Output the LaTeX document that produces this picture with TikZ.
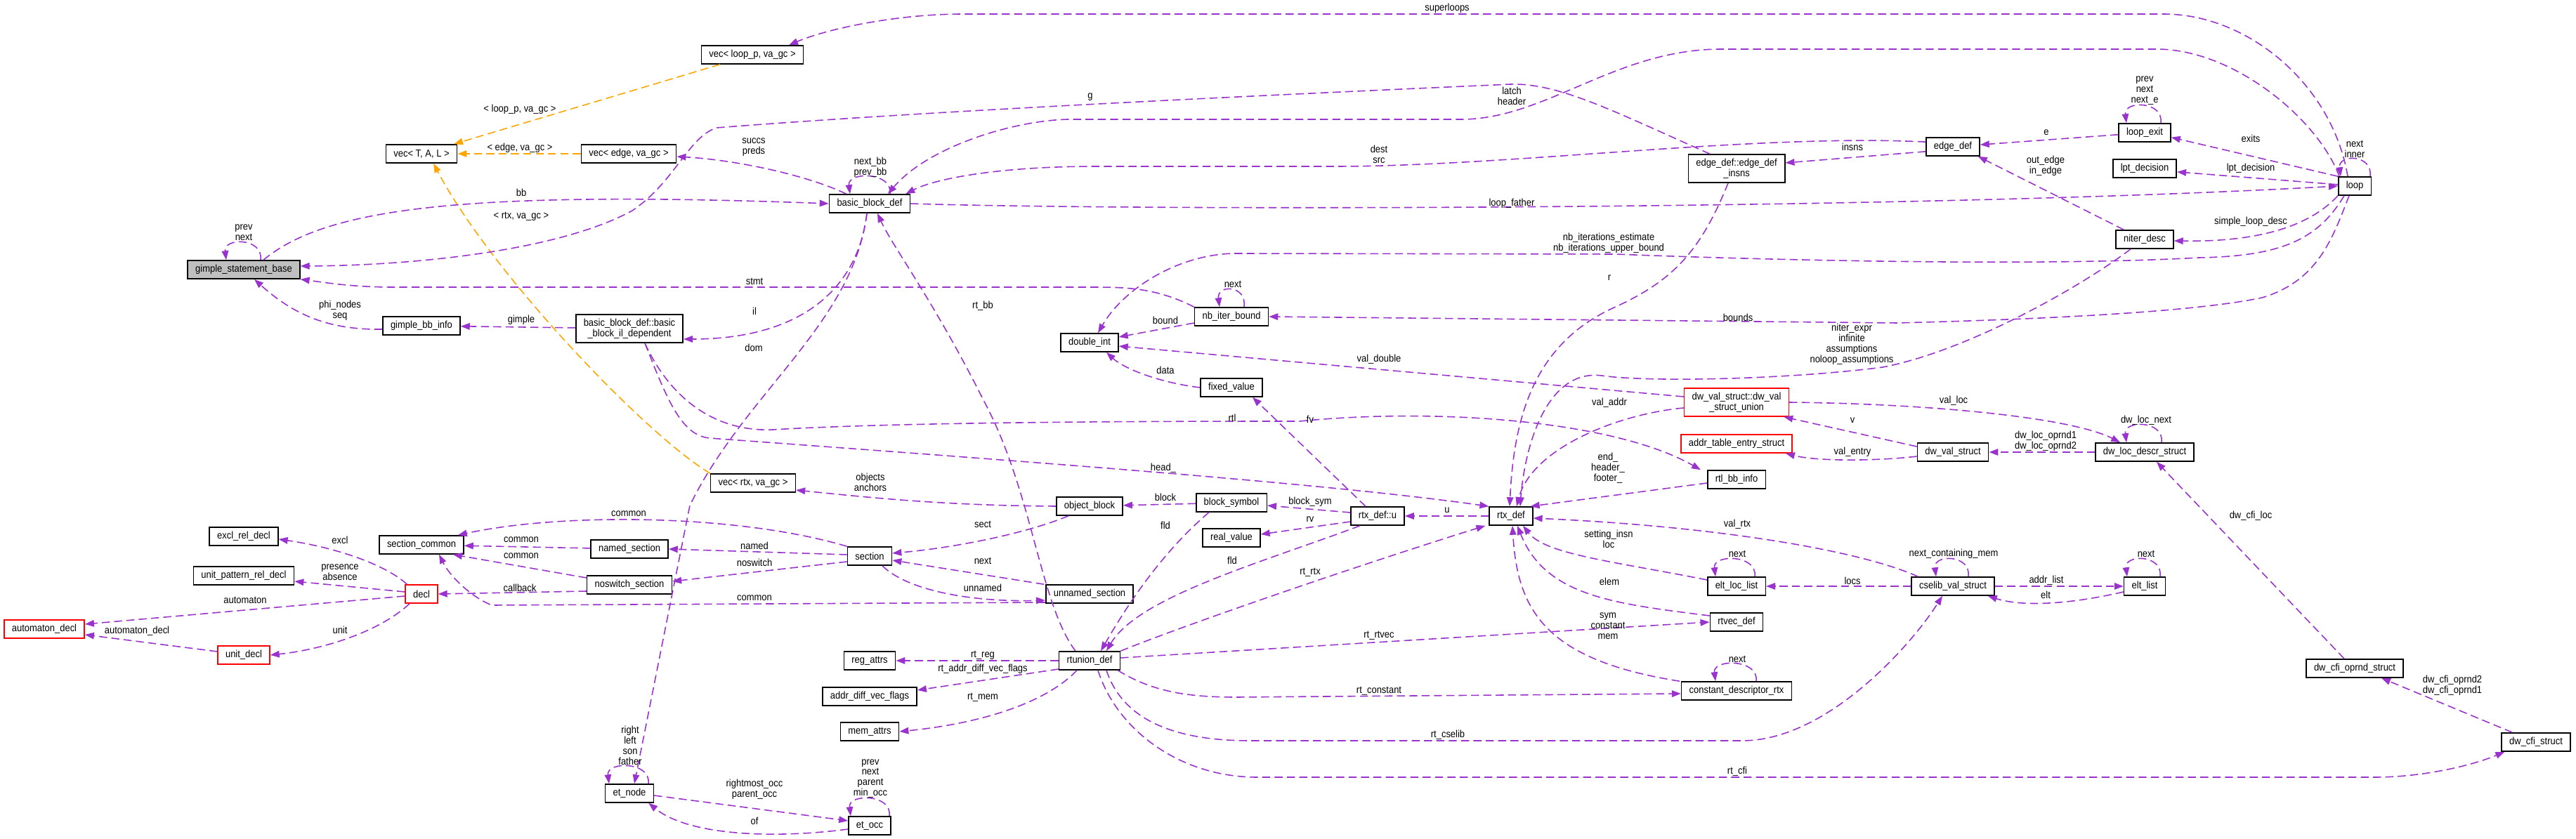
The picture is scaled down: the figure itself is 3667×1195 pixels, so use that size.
\documentclass[tikz,border=0pt]{standalone}
\usepackage{fontspec}
\setmainfont{Liberation Sans}[FakeStretch=0.9]
\usetikzlibrary{arrows.meta,calc}
\definecolor{usepurple}{HTML}{9A32CD}
\definecolor{tplorange}{HTML}{FFA500}
\definecolor{focusgray}{HTML}{BFBFBF}
\definecolor{undocred}{HTML}{FF0000}
\newcommand{\dxfont}{\fontsize{8.2}{8.5}\selectfont}
\tikzset{
  clsnode/.style={draw=black,line width=0.9pt,fill=white,minimum height=0.52cm,inner xsep=0.22cm,inner ysep=0pt,font=\dxfont},
  clstwo/.style={clsnode,minimum height=0.8cm,align=center},
  undocnode/.style={clsnode,draw=undocred},
  focusnode/.style={clsnode,fill=focusgray},
  useedge/.style={-{Triangle[length=0.26cm,width=0.19cm]},usepurple,line width=0.9pt,dash pattern=on 6.5pt off 3.5pt},
  tpledge/.style={useedge,tplorange},
  edgelbl/.style={font=\dxfont,align=center,inner sep=0pt},
}

\begin{document}
\begin{tikzpicture}[x=0.02cm,y=-0.02cm]
  \useasboundingbox (0,0) rectangle (3667,1195);
  % classes
  \node[focusnode] (gsb) at (347,384) {gimple\_statement\_base};
  \node[clsnode] (vtal) at (600,219) {vec< T, A, L >};
  \node[clsnode] (vloop) at (1071,78) {vec< loop\_p, va\_gc >};
  \node[clsnode] (vedge) at (895,219) {vec< edge, va\_gc >};
  \node[clsnode] (bbd) at (1238,290) {basic\_block\_def};
  \node[clstwo] (einsns) at (2472,240) {edge\_def::edge\_def\\\_insns};
  \node[clsnode] (edef) at (2780,209) {edge\_def};
  \node[clsnode] (lexit) at (3053,189) {loop\_exit};
  \node[clsnode] (lptd) at (3053,240) {lpt\_decision};
  \node[clsnode] (lp) at (3352,265) {loop};
  \node[clsnode] (nid) at (3053,341) {niter\_desc};
  \node[clsnode] (gbbi) at (600,464) {gimple\_bb\_info};
  \node[clstwo] (bbil) at (896,468) {basic\_block\_def::basic\\\_block\_il\_dependent};
  \node[clsnode] (excl) at (347,764) {excl\_rel\_decl};
  \node[clsnode] (scom) at (600,776) {section\_common};
  \node[clsnode] (nsec) at (896,782) {named\_section};
  \node[clsnode] (nbib) at (1753,451) {nb\_iter\_bound};
  \node[clsnode] (dint) at (1551,488) {double\_int};
  \node[clsnode] (fval) at (1753,552) {fixed\_value};
  \node[clsnode] (vrtx) at (1072,688) {vec< rtx, va\_gc >};
  \node[clsnode] (oblk) at (1551,721) {object\_block};
  \node[clsnode] (bsym) at (1753,716) {block\_symbol};
  \node[clsnode] (rval) at (1753,766) {real\_value};
  \node[clsnode] (sect) at (1238,792) {section};
  \node[clstwo,draw=undocred] (dvu) at (2472,573) {dw\_val\_struct::dw\_val\\\_struct\_union};
  \node[undocnode] (ates) at (2472,632) {addr\_table\_entry\_struct};
  \node[clsnode] (rbbi) at (2472,683) {rtl\_bb\_info};
  \node[clsnode] (rtxu) at (1961,735) {rtx\_def::u};
  \node[clsnode] (rtx) at (2151,735) {rtx\_def};
  \node[clsnode] (dvs) at (2780,644) {dw\_val\_struct};
  \node[clsnode] (dlds) at (3053,644) {dw\_loc\_descr\_struct};
  \node[clsnode] (uprd) at (347,820) {unit\_pattern\_rel\_decl};
  \node[undocnode] (decl) at (600,846) {decl};
  \node[undocnode] (adecl) at (63,896) {automaton\_decl};
  \node[undocnode] (udecl) at (347,933) {unit\_decl};
  \node[clsnode] (nssec) at (896,833) {noswitch\_section};
  \node[clsnode] (etn) at (896,1130) {et\_node};
  \node[clsnode] (unsec) at (1551,846) {unnamed\_section};
  \node[clsnode] (rtun) at (1551,941) {rtunion\_def};
  \node[clsnode] (rega) at (1238,941) {reg\_attrs};
  \node[clsnode] (advf) at (1238,992) {addr\_diff\_vec\_flags};
  \node[clsnode] (mema) at (1238,1042) {mem\_attrs};
  \node[clsnode] (eto) at (1238,1176) {et\_occ};
  \node[clsnode] (ell) at (2472,835) {elt\_loc\_list};
  \node[clsnode] (rtvec) at (2472,886) {rtvec\_def};
  \node[clsnode] (cdr) at (2472,984) {constant\_descriptor\_rtx};
  \node[clsnode] (csv) at (2780,835) {cselib\_val\_struct};
  \node[clsnode] (elst) at (3053,835) {elt\_list};
  \node[clsnode] (dcos) at (3352,952) {dw\_cfi\_oprnd\_struct};
  \node[clsnode] (dcs) at (3610,1057) {dw\_cfi\_struct};

  % template instances
  \draw[tpledge] (vloop) -- (vtal);
  \draw[tpledge] (vedge) -- (vtal);
  \draw[tpledge] (vrtx.north west) .. controls (920,620) and (700,390) .. ($(vtal.south)+(17,0)$);

  % members
  \draw[useedge] ($(gsb.north)+(24,0)$) .. controls +(4,-32) and +(-4,-32) .. ($(gsb.north)+(-25,0)$);
  \draw[useedge] ($(gsb.north)+(28,0)$) .. controls (460,300) and (640,270) .. (bbd.west);
  \draw[useedge] ($(einsns.north)+(-38,0)$) .. controls (2300,160) and (2220,118) .. (2150,120)
    .. controls (1700,140) and (1300,160) .. (1020,182)
    .. controls (980,195) and (960,260) .. (900,300)
    .. controls (800,355) and (600,378) .. ($(gsb.east)+(0,-5)$);
  \draw[useedge] (nbib.north west) .. controls (1650,412) and (1610,409) .. (1560,409) -- (560,409) .. controls (500,409) and (460,402) .. (gsb.south east);
  \draw[useedge] ($(gbbi.west)+(0,5)$) .. controls (470,470) and (420,450) .. ($(gsb.south)+(15,0)$);
  \draw[useedge] (bbil) -- (gbbi);
  \draw[useedge] ($(bbd.south)+(-4,0)$) .. controls (1220,420) and (1130,483) .. ($(bbil.east)+(0,15)$);
  \draw[useedge] ($(bbd.south)+(-4,0)$) .. controls (1215,460) and (1060,560) .. (982,720) -- ($(etn.north)+(7,0)$);
  \draw[useedge] ($(rtun.north)+(-20,0)$) .. controls (1480,860) and (1470,700) .. (1400,570) .. controls (1330,430) and (1270,350) .. ($(bbd.south)+(11,0)$);
  \draw[useedge] ($(bbd.north west)+(25,0)$) .. controls (1150,250) and (1050,228) .. ($(vedge.east)+(0,4)$);
  \draw[useedge] ($(bbd.north)+(29,0)$) .. controls +(4,-32) and +(-4,-32) .. ($(bbd.north)+(-28,0)$);
  \draw[useedge] ($(lp.north)+(-22,0)$) .. controls (3300,170) and (3180,70) .. (3070,70) -- (2450,70) .. controls (2300,70) and (2200,170) .. (2080,170) -- (1520,170) .. controls (1440,172) and (1320,210) .. ($(bbd.north)+(26,0)$);
  \draw[useedge] ($(lp.north)+(-10,0)$) .. controls (3320,120) and (3200,20) .. (3080,20) -- (1370,20) .. controls (1280,20) and (1180,40) .. ($(vloop.north)+(52,0)$);
  \draw[useedge] (edef.170) .. controls (2500,190) and (2150,237) .. (1900,237) -- (1560,237) .. controls (1420,237) and (1330,255) .. ($(bbd.north east)+(-7,0)$);
  \draw[useedge] (edef.190) -- ($(einsns.east)+(0,-8)$);
  \draw[useedge] (bbd.east) .. controls (1600,300) and (2700,300) .. (lp.west);
  \draw[useedge] (lexit) -- (edef);
  \draw[useedge] ($(lexit.north)+(23,0)$) .. controls +(4,-32) and +(-4,-32) .. ($(lexit.north)+(-26,0)$);
  \draw[useedge] (lp.150) -- (lexit.350);
  \draw[useedge] (lp.175) -- (lptd.354);
  \draw[useedge] ($(lp.north)+(22,0)$) .. controls +(4,-32) and +(-4,-32) .. ($(lp.north)+(-20,0)$);
  \draw[useedge] (lp.south west) .. controls (3290,320) and (3220,345) .. ($(nid.east)+(0,2)$);
  \draw[useedge] ($(nid.north west)+(12,0)$) -- ($(edef.south east)+(-3,0)$);
  \draw[useedge] ($(lp.south)+(-15,0)$) .. controls (3300,340) and (3250,365) .. (3130,367) .. controls (2900,380) and (2500,370) .. (2300,362) -- (1760,361) .. controls (1680,361) and (1600,410) .. ($(dint.north)+(12,0)$);
  \draw[useedge] ($(lp.south)+(-8,0)$) .. controls (3320,340) and (3300,400) .. (3220,424) .. controls (3120,445) and (2900,455) .. (2700,460) -- (nbib.east);
  \draw[useedge] ($(nbib.north)+(18,0)$) .. controls +(4,-32) and +(-4,-32) .. ($(nbib.north)+(-17,0)$);
  \draw[useedge] ($(nbib.west)+(0,9)$) -- ($(dint.east)+(0,-8)$);
  \draw[useedge] (fval.west) .. controls (1650,545) and (1600,525) .. ($(dint.south)+(24,0)$);
  \draw[useedge] ($(dvu.west)+(0,-8)$) -- ($(dint.east)+(0,5)$);
  \draw[useedge] ($(rtxu.north)+(-17,0)$) -- ($(fval.south)+(30,0)$);
  \draw[useedge] ($(dvu.west)+(0,8)$) .. controls (2300,590) and (2180,640) .. ($(rtx.north)+(8,0)$);
  \draw[useedge] (dvu.east) .. controls (2750,575) and (2950,595) .. ($(dlds.north west)+(36,0)$);
  \draw[useedge] ($(dvs.west)+(0,-8)$) -- ($(dvu.south east)+(-8,0)$);
  \draw[useedge] ($(dvs.west)+(0,6)$) .. controls (2680,656) and (2590,658) .. ($(ates.south east)+(-10,0)$);
  \draw[useedge] (dlds) -- (dvs);
  \draw[useedge] ($(dlds.north)+(24,0)$) .. controls +(4,-32) and +(-4,-32) .. ($(dlds.north)+(-26,0)$);
  \draw[useedge] ($(bbil.south)+(22,0)$) .. controls (960,580) and (1030,615) .. (1100,612) .. controls (1300,600) and (1700,600) .. (1850,600) .. controls (2050,580) and (2300,600) .. ($(rbbi.north west)+(-9,0)$);
  \draw[useedge] ($(bbil.south)+(22,0)$) .. controls (950,570) and (970,620) .. (1010,624) .. controls (1500,660) and (1900,690) .. (rtx.north west);
  \draw[useedge] ($(rbbi.west)+(0,5)$) -- ($(rtx.north east)+(-4,0)$);
  \draw[useedge] (rtx) -- (rtxu);
  \draw[useedge] ($(rtxu.west)+(0,-5)$) -- ($(bsym.east)+(0,4)$);
  \draw[useedge] ($(rtxu.west)+(0,8)$) -- ($(rval.east)+(0,-5)$);
  \draw[useedge] ($(rtxu.south)+(-25,0)$) .. controls (1800,800) and (1620,850) .. ($(rtun.north)+(24,0)$);
  \draw[useedge] ($(bsym.south)+(-32,0)$) .. controls (1650,790) and (1600,870) .. ($(rtun.north)+(16,0)$);
  \draw[useedge] (bsym) -- (oblk);
  \draw[useedge] (oblk.west) .. controls (1350,720) and (1250,710) .. ($(vrtx.east)+(0,10)$);
  \draw[useedge] ($(oblk.south)+(-30,0)$) .. controls (1460,760) and (1360,780) .. ($(sect.east)+(0,-4)$);
  \draw[useedge] ($(sect.west)+(0,-2)$) -- (nsec.east);
  \draw[useedge] ($(sect.west)+(0,8)$) -- ($(nssec.east)+(0,-5)$);
  \draw[useedge] ($(unsec.north west)+(-2,0)$) -- ($(sect.east)+(0,6)$);
  \draw[useedge] ($(sect.south)+(18,0)$) .. controls (1290,840) and (1380,858) .. ($(unsec.west)+(0,9)$);
  \draw[useedge] (nsec) -- (scom);
  \draw[useedge] ($(nssec.west)+(0,-10)$) -- ($(scom.south east)+(-16,0)$);
  \draw[useedge] (sect.north west) .. controls (1050,732) and (800,730) .. ($(scom.north east)+(-9,0)$);
  \draw[useedge] ($(unsec.west)+(0,12)$) -- (700,862) .. controls (670,850) and (640,820) .. ($(scom.south)+(25,0)$);
  \draw[useedge] ($(decl.north west)+(3,0)$) .. controls (550,805) and (480,780) .. ($(excl.east)+(0,4)$);
  \draw[useedge] ($(decl.west)+(0,-3)$) -- ($(uprd.east)+(0,8)$);
  \draw[useedge] ($(decl.west)+(0,3)$) -- ($(adecl.east)+(0,-7)$);
  \draw[useedge] ($(decl.south)+(-17,0)$) .. controls (540,900) and (460,925) .. (udecl.east);
  \draw[useedge] ($(udecl.west)+(0,-5)$) -- ($(adecl.east)+(0,8)$);
  \draw[useedge] ($(nssec.west)+(0,9)$) -- (decl.east);
  \draw[useedge] (rtun) -- (rega);
  \draw[useedge] ($(rtun.west)+(0,12)$) -- ($(advf.east)+(0,-9)$);
  \draw[useedge] ($(rtun.south)+(-18,0)$) .. controls (1490,1000) and (1400,1030) .. (mema.east);
  \draw[useedge] ($(etn.north)+(27,0)$) .. controls +(4,-32) and +(-4,-32) .. ($(etn.north)+(-29,0)$);
  \draw[useedge] ($(etn.east)+(0,3)$) -- ($(eto.west)+(0,-7)$);
  \draw[useedge] ($(eto.west)+(0,5)$) .. controls (1100,1195) and (980,1190) .. ($(etn.south east)+(-8,0)$);
  \draw[useedge] ($(eto.north)+(28,0)$) .. controls +(4,-32) and +(-4,-32) .. ($(eto.north)+(-27,0)$);
  \draw[useedge] (rtun.north east) .. controls (1700,885) and (1950,800) .. ($(rtx.south west)+(-5,0)$);
  \draw[useedge] ($(rtun.east)+(0,-4)$) -- (rtvec.west);
  \draw[useedge] ($(rtun.south east)+(-4,0)$) .. controls (1640,985) and (1690,993) .. (1760,993) -- ($(cdr.west)+(0,4)$);
  \draw[useedge] ($(rtun.south)+(24,0)$) .. controls (1600,1030) and (1680,1055) .. (1780,1055) -- (2480,1055) .. controls (2600,1055) and (2720,920) .. ($(csv.south)+(-15,0)$);
  \draw[useedge] ($(rtun.south)+(12,0)$) .. controls (1590,1040) and (1680,1107) .. (1790,1107) -- (3380,1107) .. controls (3450,1107) and (3520,1090) .. ($(dcs.south west)+(5,0)$);
  \draw[useedge] (csv) -- (ell);
  \draw[useedge] ($(ell.west)+(0,-9)$) .. controls (2300,800) and (2200,790) .. ($(rtx.south)+(17,0)$);
  \draw[useedge] ($(ell.north)+(26,0)$) .. controls +(4,-32) and +(-4,-32) .. ($(ell.north)+(-30,0)$);
  \draw[useedge] ($(csv.north west)+(10,0)$) .. controls (2650,785) and (2450,750) .. ($(rtx.east)+(0,3)$);
  \draw[useedge] ($(csv.north)+(22,0)$) .. controls +(4,-32) and +(-4,-32) .. ($(csv.north)+(-24,0)$);
  \draw[useedge] (csv) -- (elst);
  \draw[useedge] ($(elst.west)+(0,8)$) .. controls (2950,860) and (2880,865) .. ($(csv.south east)+(-10,0)$);
  \draw[useedge] ($(elst.north)+(22,0)$) .. controls +(4,-32) and +(-4,-32) .. ($(elst.north)+(-25,0)$);
  \draw[useedge] ($(rtvec.west)+(0,-9)$) .. controls (2300,860) and (2200,850) .. ($(rtx.south)+(9,0)$);
  \draw[useedge] ($(cdr.north west)+(-2,0)$) .. controls (2200,940) and (2160,870) .. ($(rtx.south)+(2,0)$);
  \draw[useedge] ($(cdr.north)+(28,0)$) .. controls +(4,-32) and +(-4,-32) .. ($(cdr.north)+(-30,0)$);
  \draw[useedge] ($(dcs.north west)+(16,0)$) -- ($(dcos.south)+(38,0)$);
  \draw[useedge] ($(dcos.north)+(-15,0)$) -- ($(dlds.south)+(17,0)$);
  \draw[useedge] ($(einsns.south)+(-12,0)$) .. controls (2420,360) and (2380,400) .. (2300,437) .. controls (2180,490) and (2155,600) .. ($(rtx.north)+(-2,0)$);
  \draw[useedge] ($(nid.south)+(-20,0)$) .. controls (2960,410) and (2800,500) .. (2680,523) .. controls (2550,540) and (2350,545) .. (2280,535) .. controls (2200,525) and (2170,640) .. ($(rtx.north)+(13,0)$);

  % edge labels
  \node[edgelbl] (tLoopP) at (740,156) {< loop\_p, va\_gc >};
  \node[edgelbl] (tEdge) at (740,211) {< edge, va\_gc >};
  \node[edgelbl] (tRtx) at (742,308) {< rtx, va\_gc >};
  \node[edgelbl] (lGsbSelf) at (347,331) {prev\\next};
  \node[edgelbl] (lBb) at (742,274) {bb};
  \node[edgelbl] (lG) at (1552,138) {g};
  \node[edgelbl] (lStmt) at (1074,401) {stmt};
  \node[edgelbl] (lSeq) at (484,442) {phi\_nodes\\seq};
  \node[edgelbl] (lGimple) at (742,456) {gimple};
  \node[edgelbl] (lIl) at (1074,443) {il};
  \node[edgelbl] (lDom) at (1073,495) {dom};
  \node[edgelbl] (lRtBb) at (1399,436) {rt\_bb};
  \node[edgelbl] (lSuccs) at (1073,210) {succs\\preds};
  \node[edgelbl] (lBbSelf) at (1239,238) {next\_bb\\prev\_bb};
  \node[edgelbl] (lLatch) at (2152,137) {latch\\header};
  \node[edgelbl] (lSuper) at (2060,12) {superloops};
  \node[edgelbl] (lDest) at (1963,220) {dest\\src};
  \node[edgelbl] (lInsns) at (2637,209) {insns};
  \node[edgelbl] (lLoopF) at (2152,290) {loop\_father};
  \node[edgelbl] (lE) at (2913,189) {e};
  \node[edgelbl] (lExitSelf) at (3053,129) {prev\\next\\next\_e};
  \node[edgelbl] (lExits) at (3204,197) {exits};
  \node[edgelbl] (lLpt) at (3204,240) {lpt\_decision};
  \node[edgelbl] (lLoopSelf) at (3352,212) {next\\inner};
  \node[edgelbl] (lSimple) at (3204,316) {simple\_loop\_desc};
  \node[edgelbl] (lOutEdge) at (2912,236) {out\_edge\\in\_edge};
  \node[edgelbl] (lNbIter) at (2290,346) {nb\_iterations\_estimate\\nb\_iterations\_upper\_bound};
  \node[edgelbl] (lBounds) at (2474,452) {bounds};
  \node[edgelbl] (lNbibSelf) at (1755,405) {next};
  \node[edgelbl] (lBound) at (1659,456) {bound};
  \node[edgelbl] (lData) at (1659,527) {data};
  \node[edgelbl] (lValDouble) at (1963,512) {val\_double};
  \node[edgelbl] (lFv) at (1865,597) {fv};
  \node[edgelbl] (lValAddr) at (2291,574) {val\_addr};
  \node[edgelbl] (lValLoc) at (2781,571) {val\_loc};
  \node[edgelbl] (lV) at (2637,599) {v};
  \node[edgelbl] (lValEntry) at (2637,644) {val\_entry};
  \node[edgelbl] (lOprnd) at (2912,628) {dw\_loc\_oprnd1\\dw\_loc\_oprnd2};
  \node[edgelbl] (lLocNext) at (3055,599) {dw\_loc\_next};
  \node[edgelbl] (lRtl) at (1754,595) {rtl};
  \node[edgelbl] (lHead) at (1656,667) {head\_};
  \node[edgelbl] (lEnd) at (2289,667) {end\_\\header\_\\footer\_};
  \node[edgelbl] (lU) at (2060,727) {u};
  \node[edgelbl] (lBlockSym) at (1865,715) {block\_sym};
  \node[edgelbl] (lRv) at (1865,740) {rv};
  \node[edgelbl] (lFldU) at (1754,798) {fld};
  \node[edgelbl] (lFldSym) at (1659,748) {fld};
  \node[edgelbl] (lBlock) at (1659,708) {block};
  \node[edgelbl] (lObjects) at (1239,687) {objects\\anchors};
  \node[edgelbl] (lSect) at (1399,747) {sect};
  \node[edgelbl] (lNamed) at (1074,777) {named};
  \node[edgelbl] (lNoswitch) at (1074,801) {noswitch};
  \node[edgelbl] (lNextSec) at (1399,799) {next};
  \node[edgelbl] (lUnnamed) at (1399,837) {unnamed};
  \node[edgelbl] (lComNamed) at (742,769) {common};
  \node[edgelbl] (lComNosw) at (742,792) {common};
  \node[edgelbl] (lComSect) at (895,732) {common};
  \node[edgelbl] (lComUnnamed) at (1074,852) {common};
  \node[edgelbl] (lExcl) at (484,769) {excl};
  \node[edgelbl] (lPresence) at (484,815) {presence\\absence};
  \node[edgelbl] (lAutomaton) at (349,855) {automaton};
  \node[edgelbl] (lUnit) at (484,897) {unit};
  \node[edgelbl] (lAutDecl) at (195,899) {automaton\_decl};
  \node[edgelbl] (lCallback) at (740,837) {callback};
  \node[edgelbl] (lRtReg) at (1399,933) {rt\_reg};
  \node[edgelbl] (lRtAddr) at (1399,953) {rt\_addr\_diff\_vec\_flags};
  \node[edgelbl] (lRtMem) at (1399,993) {rt\_mem};
  \node[edgelbl] (lEtnSelf) at (897,1062) {right\\left\\son\\father};
  \node[edgelbl] (lOcc) at (1074,1124) {rightmost\_occ\\parent\_occ};
  \node[edgelbl] (lOf) at (1074,1169) {of};
  \node[edgelbl] (lEtoSelf) at (1239,1109) {prev\\next\\parent\\min\_occ};
  \node[edgelbl] (lRtRtx) at (1865,815) {rt\_rtx};
  \node[edgelbl] (lRtRtvec) at (1963,905) {rt\_rtvec};
  \node[edgelbl] (lRtConst) at (1963,984) {rt\_constant};
  \node[edgelbl] (lRtCselib) at (2061,1047) {rt\_cselib};
  \node[edgelbl] (lRtCfi) at (2473,1099) {rt\_cfi};
  \node[edgelbl] (lLocs) at (2637,827) {locs};
  \node[edgelbl] (lSetting) at (2290,768) {setting\_insn\\loc};
  \node[edgelbl] (lEllSelf) at (2473,789) {next};
  \node[edgelbl] (lValRtx) at (2473,747) {val\_rtx};
  \node[edgelbl] (lCsvSelf) at (2781,789) {next\_containing\_mem};
  \node[edgelbl] (lAddrList) at (2913,827) {addr\_list};
  \node[edgelbl] (lElt) at (2912,847) {elt};
  \node[edgelbl] (lElstSelf) at (3055,789) {next};
  \node[edgelbl] (lElem) at (2291,828) {elem};
  \node[edgelbl] (lSym) at (2289,892) {sym\\constant\\mem};
  \node[edgelbl] (lCdrSelf) at (2473,939) {next};
  \node[edgelbl] (lCfiOprnd) at (3491,976) {dw\_cfi\_oprnd2\\dw\_cfi\_oprnd1};
  \node[edgelbl] (lCfiLoc) at (3204,735) {dw\_cfi\_loc};
  \node[edgelbl] (lR) at (2291,396) {r};
  \node[edgelbl] (lNiter) at (2636,490) {niter\_expr\\infinite\\assumptions\\noloop\_assumptions};
\end{tikzpicture}
\end{document}
